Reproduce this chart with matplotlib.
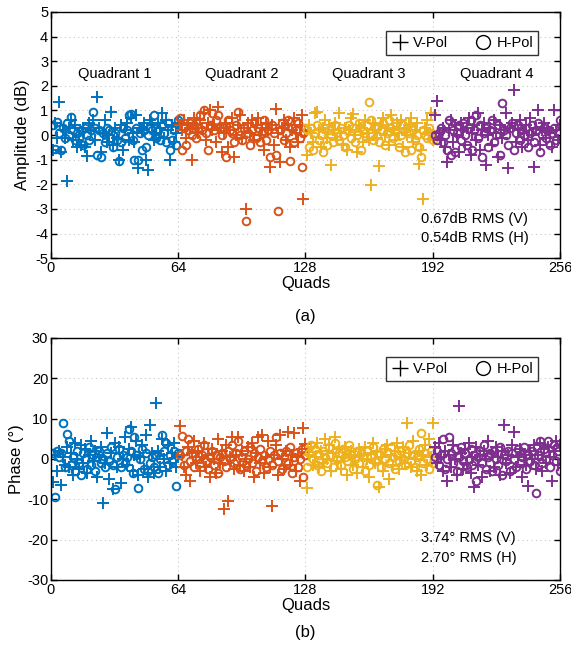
import matplotlib
matplotlib.use("Agg")
import matplotlib.pyplot as plt
import numpy as np
from matplotlib.lines import Line2D

plt.rcParams['font.family'] = ['Liberation Sans', 'DejaVu Sans']
plt.rcParams['axes.unicode_minus'] = False

quads = list(range(1, 257))
quadrant_labels = ["Quadrant 1", "Quadrant 2", "Quadrant 3", "Quadrant 4"]
quadrant_colors = ["#0072BD", "#D95319", "#EDB120", "#7E2F8E"]
xticks = [0, 64, 128, 192, 256]

amp_v = [
    -0.6, 0.5, -0.1, 1.35, -0.7, 0.2, -0.1, -1.85, 0.3, 0.6, -0.2, 0.4, -0.5, 0.0, -0.4, 0.3,
    -0.5, -0.85, 0.5, 0.2, 0.6, -0.2, 1.55, 0.3, -0.7, 0.1, 0.6, -0.3, 0.0, 0.95, -0.4, 0.3,
    -0.1, -1.0, 0.4, -0.6, 0.2, 0.5, -0.2, 0.7, 0.1, -0.3, 0.8, -1.35, 0.3, 0.2, 0.5, -1.0,
    -1.42, 0.6, 0.4, -0.2, 0.1, 0.5, 0.3, 0.88, -0.1, 0.6, 0.2, -1.0, 0.4, -0.3, 0.1, 0.5,
    0.4, 0.2, 0.6, -0.1, 0.5, 0.3, -1.0, 0.7, 0.4, 0.1, 0.6, 0.3, 0.9, -0.2, 0.5, 1.0,
    0.2, 0.4, -0.3, 1.15, 0.3, -0.7, 0.1, 0.5, -0.5, 0.2, 0.7, -0.9, 0.0, 0.4, 0.8, -0.1,
    0.3, -3.0, 0.5, 0.1, 0.6, -0.2, 0.4, 0.7, 0.0, 0.3, -0.6, 0.5, 0.2, -1.3, 0.4, -0.4,
    1.07, 0.1, -1.1, 0.3, 0.6, -0.2, 0.4, -0.5, 0.2, 0.7, 0.1, -0.3, 0.4, 0.8, -2.6, 0.2,
    -0.8, 0.4, 0.1, -0.3, 0.9, 0.93, 0.2, -0.5, 0.3, 0.6, -0.1, 0.4, -1.22, 0.2, 0.5, -0.2,
    0.9, 0.1, -0.4, 0.3, -0.6, 0.2, 0.7, 0.85, 0.0, -0.7, 0.4, 0.3, -0.3, 0.6, 0.1, -0.2,
    -2.03, 0.5, 0.2, -0.1, -1.26, 0.4, 0.7, 0.0, 0.3, -0.4, 0.8, 0.2, -0.2, 0.5, 0.1, 0.6,
    -0.5, 0.3, 0.0, 0.4, 0.7, -0.3, 0.2, 0.5, -1.16, -0.6, -2.6, 0.3, 0.6, 0.1, 0.9, -0.2,
    0.8, 1.4, 0.1, -0.2, 0.3, -0.5, -1.1, 0.2, 0.6, -0.3, 0.4, 0.0, -0.7, 0.5, 0.2, -0.4,
    0.3, 0.7, -0.8, 0.1, 0.4, -0.2, 0.9, -0.6, 0.2, 0.5, -1.2, 0.0, 0.3, -0.4, 0.6, 0.1,
    -0.9, 0.4, -0.1, 0.2, 0.9, -1.35, 0.3, 0.5, 1.83, -0.3, 0.2, 0.6, -0.5, 0.1, 0.4, -0.2,
    0.7, 0.0, -1.3, 0.3, 1.0, -0.4, 0.2, 0.5, -0.1, 0.3, 0.1, -0.5, 1.0, 0.2, -0.2, 0.4,
]

amp_h = [
    0.4, -0.55, 0.55, 0.1, -0.6, 0.3, -0.1, 0.5, 0.0, 0.75, 0.2, -0.2, 0.1, -0.1, 0.2, -0.4,
    0.3, 0.0, -0.2, 0.2, 0.93, 0.3, -0.8, 0.2, -0.9, 0.1, -0.3, 0.3, 0.2, -0.1, -0.5, 0.1,
    -0.2, -1.05, -0.3, 0.3, -0.1, 0.2, 0.8, 0.85, -0.2, -1.0, 0.3, -1.0, 0.1, -0.6, 0.2, -0.5,
    0.0, 0.3, 0.2, 0.8, -0.1, 0.2, -0.2, 0.4, 0.1, -0.3, 0.5, -0.6, -0.2, 0.2, -0.4, 0.6,
    0.7, -0.6, 0.3, -0.4, 0.2, 0.5, 0.0, 0.4, -0.1, 0.3, 0.8, 0.2, 1.0, 0.1, -0.6, 0.4,
    0.9, 0.2, 0.6, 0.8, 0.3, 0.0, 0.3, -0.9, 0.6, 0.2, 0.1, -0.3, 0.4, 0.93, 0.0, -0.2,
    0.3, -3.5, 0.1, -0.4, 0.2, 0.5, -0.1, 0.3, -0.3, 0.1, 0.6, -0.2, 0.2, -0.9, 0.4, 0.1,
    -0.8, -3.1, 0.2, 0.5, -0.2, 0.1, 0.6, -1.05, 0.3, -0.3, 0.2, 0.5, -0.1, -1.3, 0.1, 0.3,
    0.2, -0.5, 0.3, -0.6, 0.1, 0.4, -0.2, 0.0, -0.7, 0.3, -0.4, 0.2, 0.0, -0.3, 0.4, 0.1,
    -0.2, 0.3, 0.0, -0.5, 0.2, 0.4, -0.1, 0.3, -0.3, 0.0, 0.5, -0.6, 0.2, 0.1, 0.4, 1.35,
    0.6, -0.2, 0.3, 0.0, -0.3, 0.2, 0.5, -0.4, 0.1, 0.6, 0.3, -0.1, 0.5, 0.2, -0.5, 0.0,
    0.4, -0.7, 0.3, 0.1, -0.6, 0.2, -0.2, 0.0, -0.5, -0.9, 0.2, 0.0, -0.1, 0.3, 0.1, -0.2,
    0.0, -0.2, 0.1, 0.3, -0.3, 0.0, -0.6, 0.6, -0.8, 0.2, -0.7, 0.1, 0.4, -0.2, 0.5, 0.0,
    -0.4, 0.3, 0.6, -0.6, 0.2, 0.8, -0.1, 0.4, -0.9, 0.1, 0.3, -0.5, 0.2, 0.6, -0.3, 0.0,
    0.4, -0.8, 1.3, 0.2, 0.0, -0.4, 0.3, 0.5, -0.6, 0.1, 0.4, -0.2, 0.2, 0.0, 0.3, -0.5,
    0.1, 0.4, -0.3, 0.2, 0.5, -0.7, 0.0, 0.3, -0.1, 0.2, -0.4, 0.1, 0.3, -0.2, 0.1, 0.6,
]

phase_v = [
    -5.7, 1.0, -3.0, 2.0, -6.5, 0.5, -1.5, 3.0, -2.0, 1.5, -4.0, 4.0, 0.0, -2.5, 3.5, -1.0,
    2.5, -3.5, 1.0, 4.5, -0.5, 2.0, -4.5, 0.5, 3.0, -11.0, -1.0, 6.5, -5.0, 1.5, -7.5, 4.0,
    -2.0, 3.0, -6.0, 0.0, 5.5, -1.5, 2.5, 8.0, -3.0, 1.0, 4.5, -4.0, 0.5, 3.5, -2.5, 6.0,
    -4.5, 8.5, 1.5, -3.5, 13.8, 2.0, -2.0, 5.0, 0.0, -3.0, 3.5, -1.0, 1.5, 4.0, -2.0, 0.5,
    8.2, 1.0, -2.0, -4.0, 3.0, -5.5, 1.5, 4.5, -1.0, 2.0, -3.0, 0.5, 4.0, -2.0, 1.0, -4.5,
    2.5, 0.0, -3.5, 5.0, -1.0, 2.0, -12.4, 3.5, -10.4, 0.5, 5.5, -2.5, 1.0, 5.5, -1.5, 2.0,
    -3.0, 0.0, 3.0, -2.0, 4.0, -4.5, 1.5, 5.5, -1.0, 5.9, -3.5, 0.5, 4.5, -2.0, -11.7, 1.0,
    3.5, -4.0, 6.0, 0.0, -2.5, 2.0, 6.7, -1.5, 1.0, 6.5, -3.0, 0.5, -5.5, 2.5, 7.7, 3.7,
    -7.3, 1.0, 3.0, -1.5, 0.5, 4.0, -2.0, 2.0, -1.0, 5.0, 0.0, 3.5, -3.0, 1.5, 5.5, -0.5,
    2.5, -2.5, 0.5, 3.0, -4.0, 1.0, 2.0, -1.5, 0.5, -3.5, 2.5, 1.0, -2.0, 3.0, 0.0, -4.5,
    1.5, 4.0, -1.0, 2.0, -7.0, 0.5, -3.0, 2.5, 3.5, -5.0, 1.0, -1.5, 2.0, 4.0, -2.5, 0.5,
    3.0, -1.0, 9.0, 1.5, -2.0, 4.5, 0.0, -3.0, 2.0, -4.0, 1.0, 3.5, -1.5, 5.0, 0.5, 8.8,
    3.0, -1.0, 4.0, 0.5, -3.0, 2.0, -5.5, 1.0, -2.0, 3.5, 0.0, -4.0, 13.2, 1.5, -2.5, 2.5,
    -1.0, 4.0, -3.5, 0.5, -6.9, 3.0, -1.5, 1.0, -4.5, 2.0, 0.0, 4.5, -3.0, 1.5, -2.0, 3.0,
    0.5, -4.0, 2.0, 8.4, -1.0, 1.0, -3.5, 3.5, 6.6, -2.0, 0.5, 2.5, -4.5, 1.0, -1.5, -6.6,
    2.0, 0.0, 3.5, -2.5, 1.0, 4.0, -3.0, 2.5, -1.0, 3.0, 0.5, -5.5, 2.0, 4.5, -1.5, 3.5,
]

phase_h = [
    1.5, -9.5, 2.0, 0.5, 1.5, 9.0, -2.0, 6.2, 4.5, -1.5, 0.5, -3.0, 2.0, -1.0, -4.0, 1.5,
    0.0, -2.5, 3.0, -1.5, 1.0, -3.0, 0.5, 2.0, -1.0, 0.0, -2.0, 1.5, -0.5, 3.0, -1.5, -7.5,
    0.5, 2.5, -2.0, 1.0, -1.0, 0.5, 7.4, 2.0, -3.5, 5.5, 1.0, -7.2, 0.0, 2.5, -2.5, 1.5,
    -3.0, -1.0, 0.5, -2.0, 1.0, -3.5, 0.0, 6.0, 2.0, 4.0, -1.5, 1.0, -0.5, 2.0, -6.7, 1.5,
    1.0, 5.8, -1.5, 2.0, 5.0, -0.5, 1.5, -2.0, 0.0, 2.5, -1.0, 1.0, 3.5, -0.5, -2.5, 0.5,
    2.0, -1.5, 1.0, -3.5, 0.5, 1.5, -0.5, -2.0, 2.0, 0.0, 3.5, -1.0, 1.5, 4.5, -2.5, 0.5,
    2.0, -1.5, 0.0, 3.0, -1.0, 1.5, -3.0, 0.5, 2.5, -0.5, 1.0, -2.0, 0.0, 2.0, -1.5, 1.0,
    5.5, -0.5, 1.5, -2.5, 0.5, 2.0, -1.0, 3.0, -3.5, 0.5, 1.5, -2.0, 0.0, 2.5, -4.5, 1.0,
    -2.0, 1.5, 3.5, 0.0, 2.5, -1.5, 1.0, -3.0, 2.0, 0.5, -1.0, 3.0, 1.0, -2.0, 4.0, 0.0,
    1.5, -1.5, 2.5, 0.5, -0.5, 3.5, 1.0, -2.5, 0.0, 2.0, -1.0, 1.5, 0.5, -3.0, 2.0, -1.5,
    0.5, 3.0, -0.5, -6.5, 1.0, -2.0, 2.5, 0.0, 1.5, -1.0, 3.0, 0.5, -2.5, 1.0, -0.5, 2.0,
    0.0, -1.5, 1.5, 3.5, -0.5, 1.0, -2.0, 0.5, 2.5, 6.5, -1.0, 1.5, 0.0, -2.5, 2.0, -1.0,
    0.5, 2.0, -1.5, 1.0, 5.0, -2.5, 0.0, 5.5, 1.5, -1.0, 2.5, -3.0, 0.5, 3.0, -0.5, 1.5,
    -2.0, 0.0, 2.5, -1.5, 1.0, -5.5, 0.5, 2.0, -1.0, 3.5, -2.5, 0.5, 1.5, -3.0, 2.0, 0.0,
    -1.5, 3.0, -4.0, 1.0, -0.5, 2.0, -3.0, 1.5, 0.0, -2.0, 2.5, -1.0, 0.5, 3.0, -2.5, 1.0,
    -0.5, 2.0, -1.5, -8.4, 1.0, 4.5, -1.0, 2.5, 0.0, 4.5, -2.0, 1.0, 3.5, -0.5, 2.0, -3.0,
]

fig = plt.figure(figsize=(5.71, 6.47), dpi=100)
ax1 = fig.add_axes([0.0893, 0.601, 0.8914, 0.3805])
ax2 = fig.add_axes([0.0893, 0.1036, 0.8914, 0.374])

FS = 10.5


def draw(ax, v, h):
    x = np.array(quads)
    v = np.array(v)
    h = np.array(h)
    for k in range(4):
        sl = slice(64 * k, 64 * (k + 1))
        c = quadrant_colors[k]
        ax.plot(x[sl], v[sl], linestyle='none', marker='+', markersize=8.5,
                markeredgewidth=1.4, color=c)
        ax.plot(x[sl], h[sl], linestyle='none', marker='o', markersize=5.5,
                markeredgewidth=1.4, markerfacecolor='none', markeredgecolor=c)
    ax.set_xlim(0, 256)
    ax.set_xticks(xticks)
    ax.grid(True, linestyle=(0, (1, 3)), color='#c8c8c8', linewidth=0.8)
    ax.set_axisbelow(True)
    ax.tick_params(direction='in', top=True, right=True, labelsize=FS, length=4, width=1, pad=2)
    for s in ax.spines.values():
        s.set_linewidth(1.0)
    handles = [Line2D([], [], linestyle='none', marker='+', markersize=11, markeredgewidth=1.0, color='black'),
               Line2D([], [], linestyle='none', marker='o', markersize=10, markeredgewidth=1.0,
                      markerfacecolor='none', markeredgecolor='black')]
    leg = ax.legend(handles, ['V-Pol', 'H-Pol'], ncol=2, loc='upper right',
                    bbox_to_anchor=(0.972, 0.953), fontsize=FS, frameon=True, fancybox=False,
                    edgecolor='black', handletextpad=0.3, columnspacing=1.8, borderpad=0.35,
                    handlelength=1.2)
    leg.get_frame().set_linewidth(1.0)
    ax.set_xlabel('Quads', fontsize=12, labelpad=1)


draw(ax1, amp_v, amp_h)
ax1.set_ylim(-5, 5)
ax1.set_yticks(range(-5, 6))
ax1.set_ylabel('Amplitude (dB)', fontsize=12, labelpad=4)
for k in range(4):
    ax1.text(32 + 64 * k, 2.5, quadrant_labels[k], ha='center', va='center', fontsize=FS)
ax1.text(186, -3.4, '0.67dB RMS (V)', ha='left', va='center', fontsize=FS)
ax1.text(186, -4.2, '0.54dB RMS (H)', ha='left', va='center', fontsize=FS)

draw(ax2, phase_v, phase_h)
ax2.set_ylim(-30, 30)
ax2.set_yticks(range(-30, 31, 10))
ax2.set_ylabel('Phase (°)', fontsize=12, labelpad=2)
ax2.text(186, -19.6, '3.74° RMS (V)', ha='left', va='center', fontsize=FS)
ax2.text(186, -24.6, '2.70° RMS (H)', ha='left', va='center', fontsize=FS)

fig.text(0.535, 1 - 316 / 647, '(a)', ha='center', va='center', fontsize=12)
fig.text(0.535, 1 - 632 / 647, '(b)', ha='center', va='center', fontsize=12)

fig.savefig('out.png', dpi=100)
